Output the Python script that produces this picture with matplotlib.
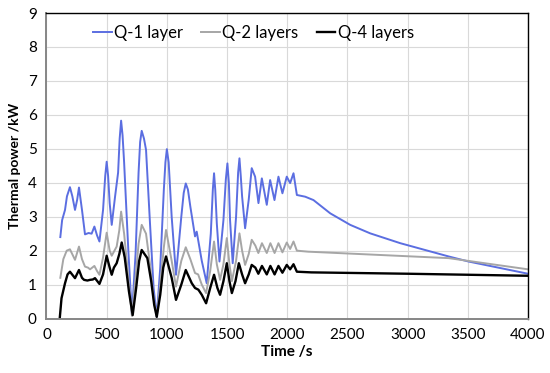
import matplotlib.pyplot as plt

# Q-1 layer (blue)
t_q1 = [115, 130, 154, 170, 195, 215, 237, 255, 270, 295, 320, 350, 375, 398, 420, 440, 470,
        488, 500, 512, 525, 542, 570, 595, 608, 620, 632, 645, 680, 710, 740, 765, 778, 791,
        810, 827, 860, 890, 916, 945, 975, 988, 1000, 1015, 1040, 1076, 1120, 1140, 1157, 1175,
        1195, 1234, 1248, 1290, 1331, 1365, 1382, 1392, 1402, 1415, 1437, 1470, 1490, 1503,
        1515, 1525, 1547, 1575, 1592, 1603, 1614, 1625, 1650, 1680, 1705, 1733, 1761, 1789,
        1830, 1858, 1894, 1927, 1960, 1996, 2024, 2052, 2080, 2149, 2218, 2357, 2523, 2689,
        2939, 3340, 3506, 4000]
q1 = [2.4, 2.9, 3.2, 3.6, 3.87, 3.6, 3.2, 3.5, 3.86, 3.2, 2.48, 2.52, 2.5, 2.71, 2.45, 2.27, 3.2,
      4.2, 4.62, 4.2, 3.4, 2.76, 3.6, 4.3, 5.3, 5.83, 5.4, 4.6, 2.0, 0.1, 1.9, 4.3, 5.2, 5.53,
      5.3, 4.97, 2.8, 0.9, 0.05, 1.5, 3.8, 4.6, 4.99, 4.6, 3.0, 1.29, 3.0, 3.7, 3.98, 3.8,
      3.3, 2.42, 2.56, 1.7, 1.04, 2.5, 3.8, 4.28, 3.8, 2.8, 1.68, 2.9, 4.1, 4.57,
      4.0, 2.9, 1.63, 3.0, 4.3, 4.72, 4.2, 3.6, 2.66, 3.5, 4.43, 4.18, 3.40, 4.13,
      3.35, 4.08, 3.49, 4.18, 3.69, 4.18, 3.99, 4.28, 3.64, 3.59, 3.49, 3.10, 2.76, 2.51,
      2.22, 1.83, 1.68, 1.32]

# Q-2 layers (grey)
t_q2 = [115, 140, 168, 195, 237, 270, 295, 320, 345, 362, 398, 420, 440, 470, 500, 525,
        542, 583, 605, 620, 645, 680, 710, 740, 765, 791, 827, 860, 890, 916, 945, 975,
        993, 1040, 1076, 1120, 1157, 1195, 1234, 1260, 1290, 1326, 1360, 1392, 1415, 1442,
        1470, 1498, 1520, 1540, 1575, 1603, 1625, 1650, 1680, 1705, 1735, 1760, 1790, 1830,
        1860, 1895, 1927, 1960, 1996, 2024, 2052, 2080, 2174, 3340, 4000]
q2 = [1.2, 1.75, 2.0, 2.04, 1.73, 2.12, 1.75, 1.53, 1.5, 1.45, 1.55, 1.4, 1.29, 1.8, 2.53, 2.0,
      1.85, 2.12, 2.6, 3.15, 2.5, 1.2, 0.08, 1.2, 2.2, 2.76, 2.5, 1.6, 0.6, 0.05, 1.0, 2.1,
      2.61, 1.7, 0.94, 1.7, 2.10, 1.75, 1.34, 1.3, 1.0, 0.75, 1.4, 2.27, 1.6, 1.14,
      1.6, 2.37, 1.6, 1.1, 1.7, 2.51, 2.0, 1.58, 1.9, 2.32, 2.15, 1.93, 2.22, 1.93,
      2.22, 1.93, 2.22, 1.95, 2.24, 2.05, 2.27, 2.0, 1.97, 1.78, 1.45]

# Q-4 layers (black)
t_q4 = [110, 125, 154, 175, 195, 237, 270, 295, 312, 340, 362, 385, 403, 440, 470, 500,
        525, 542, 560, 583, 605, 625, 650, 685, 716, 745, 770, 791, 838, 870, 895, 916,
        945, 970, 993, 1040, 1076, 1120, 1157, 1207, 1234, 1262, 1290, 1326, 1360, 1392,
        1420, 1442, 1470, 1498, 1520, 1540, 1570, 1598, 1625, 1650, 1680, 1705, 1735, 1760,
        1790, 1830, 1860, 1895, 1927, 1960, 1996, 2024, 2052, 2080, 2200, 3000, 4000]
q4 = [0.0, 0.6, 1.04, 1.3, 1.38, 1.19, 1.43, 1.2, 1.14, 1.12, 1.14, 1.15, 1.19, 1.02, 1.3, 1.85,
      1.5, 1.29, 1.5, 1.63, 1.9, 2.24, 1.8, 0.8, 0.1, 0.9, 1.7, 2.02, 1.78, 1.1, 0.4, 0.05,
      0.7, 1.5, 1.83, 1.2, 0.55, 1.0, 1.43, 1.04, 0.9, 0.85, 0.7, 0.45, 0.9, 1.29,
      0.9, 0.70, 1.1, 1.63, 1.1, 0.75, 1.1, 1.63, 1.3, 1.04, 1.3, 1.58, 1.5, 1.32,
      1.55, 1.3, 1.55, 1.3, 1.55, 1.35, 1.58, 1.45, 1.6, 1.38, 1.36, 1.32, 1.26]

labels = ["Q-1 layer", "Q-2 layers", "Q-4 layers"]

plt.rcParams['font.family'] = ['Lato', 'DejaVu Sans']

fig = plt.figure(figsize=(5.5, 3.73), dpi=100)
ax = fig.add_axes([0.0845, 0.146, 0.8755, 0.819])

ax.plot(t_q1, q1, color='#5b6ee1', lw=1.4, label=labels[0])
ax.plot(t_q2, q2, color='#a6a6a6', lw=1.4, label=labels[1])
ax.plot(t_q4, q4, color='black', lw=1.7, label=labels[2])

ax.set_xlim(0, 4000)
ax.set_ylim(0, 9)
ax.set_xticks(range(0, 4001, 500))
ax.set_yticks(range(0, 10))
ax.grid(True, color='#d9d9d9', lw=0.8)
ax.set_axisbelow(True)
ax.tick_params(length=0, labelsize=11, pad=7)

for side in ['top', 'right']:
    ax.spines[side].set_color('black')
    ax.spines[side].set_linewidth(1.0)
for side in ['left', 'bottom']:
    ax.spines[side].set_color('#868686')
    ax.spines[side].set_linewidth(1.4)

ax.set_xlabel("Time /s", fontsize=11, fontweight='bold', labelpad=2)
ax.set_ylabel("Thermal power /kW", fontsize=10, fontweight='bold', labelpad=5)

ax.legend(loc='upper center', bbox_to_anchor=(0.43, 1.01), ncol=3, frameon=False,
          fontsize=12, handlelength=1.1, handletextpad=0.15, columnspacing=1.1)

plt.savefig("out.png", dpi=100)
